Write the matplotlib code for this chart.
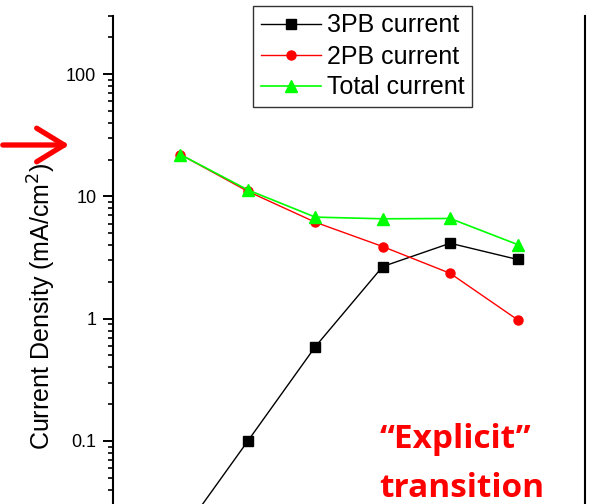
import matplotlib
matplotlib.use('Agg')
import matplotlib.pyplot as plt
from matplotlib.ticker import LogLocator, FuncFormatter, NullFormatter

plt.rcParams['font.family'] = 'Liberation Sans'

# Current densities at each step (mA/cm2)
steps = [1, 2, 3, 4, 5, 6]
current_3pb = [0.017, 0.10, 0.59, 2.67, 4.14, 3.05]
current_2pb = [22.0, 11.0, 6.15, 3.89, 2.35, 0.98]
current_total = [22.0, 11.3, 6.77, 6.56, 6.60, 4.04]
series_labels = ['3PB current', '2PB current', 'Total current']

W, H = 594, 504
fig = plt.figure(figsize=(W / 100, H / 100), dpi=100)

# the plot continues below the visible area: bottom of axes sits off the figure
ax = fig.add_axes([113 / W, (H - 540) / H, (585 - 113) / W, (540 - 15.8) / H])

l1, = ax.plot(steps, current_3pb, color='black', lw=1.0, marker='s', ms=7,
              mec='black', mfc='black')
l2, = ax.plot(steps, current_2pb, color='#FF0000', lw=1.0, marker='o', ms=6.5,
              mec='#FF0000', mfc='#FF0000')
l3, = ax.plot(steps, current_total, color='#00FF00', lw=1.2, marker='^', ms=9,
              mec='#00FF00', mfc='#00FF00')

ax.set_yscale('log')
ax.set_ylim(10 ** -1.81, 300)
ax.set_xlim(0, 7)

ax.yaxis.set_major_locator(LogLocator(base=10, numticks=10))
ax.yaxis.set_minor_locator(LogLocator(base=10, subs=range(2, 10), numticks=20))
ax.yaxis.set_major_formatter(FuncFormatter(lambda v, p: f'{v:g}'))
ax.yaxis.set_minor_formatter(NullFormatter())
ax.tick_params(axis='y', which='major', direction='out', length=7, width=1.4,
               labelsize=13, pad=5)
ax.tick_params(axis='y', which='minor', direction='out', length=3.6, width=1.2)
ax.tick_params(axis='x', which='both', bottom=False, labelbottom=False)

ax.spines['top'].set_visible(False)
ax.spines['bottom'].set_visible(False)
ax.spines['left'].set_linewidth(1.5)
ax.spines['right'].set_linewidth(1.5)

fig.text(42 / W, 1 - 306.5 / H, 'Current Density (mA/cm$^2$)', rotation=90,
         ha='center', va='center', fontsize=18)

leg = fig.legend([l1, l2, l3], series_labels, loc='upper left',
                 bbox_to_anchor=(253 / W, 1 - 6 / H), fontsize=18,
                 frameon=True, fancybox=False, borderpad=0.3,
                 handlelength=2.4, handletextpad=0.25, labelspacing=0.28,
                 borderaxespad=0)
leg.get_frame().set_edgecolor('black')
leg.get_frame().set_linewidth(1.0)

# red arrow pointing at the axis
fig.add_artist(matplotlib.patches.FancyArrowPatch(
    (0, H - 145), (72, H - 145), transform=None,
    arrowstyle='->,head_length=0.9,head_width=0.55', mutation_scale=22,
    color='#FF0000', lw=3.8))

fig.text(455 / W, 1 - 448 / H, '\u201cExplicit\u201d', color='#FF0000',
         fontsize=24, fontweight='bold', family='Open Sans', ha='center',
         va='baseline')
fig.text(462 / W, 1 - 497 / H, 'transition', color='#FF0000',
         fontsize=24, fontweight='bold', family='Open Sans', ha='center',
         va='baseline')

fig.savefig('out.png', dpi=100)
